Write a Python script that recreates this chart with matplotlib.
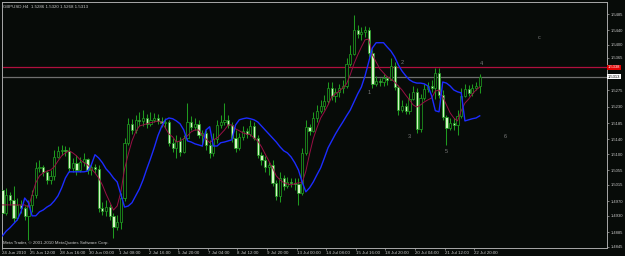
import matplotlib
matplotlib.use("Agg")
import matplotlib.pyplot as plt
from matplotlib.patches import Rectangle

# ---------------- data (GBPUSD H4) ----------------
first_open = 1.5001
closes = [1.4938, 1.4988, 1.4974, 1.4924, 1.4960, 1.4952, 1.4930, 1.4960, 1.4988, 1.5062,
          1.5065, 1.5051, 1.5029, 1.5040, 1.5092, 1.5109, 1.5111, 1.5109, 1.5062, 1.5076,
          1.5056, 1.5078, 1.5087, 1.5056, 1.5065, 1.5059, 1.4952, 1.4943, 1.4954, 1.4930,
          1.4899, 1.4913, 1.4979, 1.5131, 1.5183, 1.5166, 1.5194, 1.5191, 1.5199, 1.5183,
          1.5194, 1.5199, 1.5191, 1.5186, 1.5188, 1.5131, 1.5117, 1.5136, 1.5106, 1.5144,
          1.5188, 1.5175, 1.5183, 1.5153, 1.5158, 1.5125, 1.5103, 1.5142, 1.5180, 1.5188,
          1.5194, 1.5180, 1.5144, 1.5117, 1.5147, 1.5164, 1.5155, 1.5177, 1.5144, 1.5098,
          1.5084, 1.5065, 1.5070, 1.5021, 1.4985, 1.5034, 1.5012, 1.5023, 1.5021, 1.5018,
          1.4993, 1.5103, 1.5175, 1.5164, 1.5199, 1.5219, 1.5232, 1.5246, 1.5282, 1.5260,
          1.5271, 1.5282, 1.5287, 1.5348, 1.5375, 1.5441, 1.5430, 1.5435, 1.5441, 1.5378,
          1.5293, 1.5301, 1.5298, 1.5309, 1.5304, 1.5342, 1.5284, 1.5221, 1.5232, 1.5219,
          1.5251, 1.5271, 1.5169, 1.5254, 1.5279, 1.5287, 1.5282, 1.5323, 1.5262, 1.5202,
          1.5172, 1.5186, 1.5180, 1.5205, 1.5260, 1.5279, 1.5268, 1.5282, 1.5286, 1.5313]
highs = [1.5015, 1.5007, 1.4996, 1.5012, 1.4979, 1.4974, 1.4957, 1.4974, 1.5001, 1.5078,
         1.5084, 1.5070, 1.5056, 1.5056, 1.5111, 1.5122, 1.5125, 1.5122, 1.5120, 1.5089,
         1.5098, 1.5092, 1.5103, 1.5089, 1.5076, 1.5073, 1.5070, 1.4968, 1.4974, 1.4963,
         1.4938, 1.4932, 1.4993, 1.5144, 1.5199, 1.5197, 1.5208, 1.5216, 1.5221, 1.5210,
         1.5216, 1.5213, 1.5210, 1.5202, 1.5199, 1.5194, 1.5144, 1.5153, 1.5147, 1.5153,
         1.5240, 1.5205, 1.5199, 1.5194, 1.5166, 1.5166, 1.5139, 1.5158, 1.5194, 1.5208,
         1.5240, 1.5208, 1.5188, 1.5166, 1.5158, 1.5177, 1.5172, 1.5194, 1.5188, 1.5153,
         1.5106, 1.5095, 1.5078, 1.5084, 1.5029, 1.5051, 1.5043, 1.5037, 1.5034, 1.5034,
         1.5034, 1.5117, 1.5194, 1.5183, 1.5216, 1.5235, 1.5249, 1.5262, 1.5298, 1.5298,
         1.5282, 1.5293, 1.5304, 1.5364, 1.5400, 1.5482, 1.5455, 1.5449, 1.5452, 1.5449,
         1.5386, 1.5315, 1.5309, 1.5320, 1.5315, 1.5364, 1.5353, 1.5290, 1.5249, 1.5240,
         1.5268, 1.5287, 1.5282, 1.5265, 1.5293, 1.5298, 1.5304, 1.5337, 1.5337, 1.5276,
         1.5208, 1.5199, 1.5199, 1.5221, 1.5282, 1.5293, 1.5290, 1.5293, 1.5298, 1.5320]
lows = [1.4930, 1.4932, 1.4960, 1.4913, 1.4919, 1.4938, 1.4919, 1.4864, 1.4941, 1.4979,
        1.5051, 1.5040, 1.5018, 1.5018, 1.5029, 1.5089, 1.5098, 1.5095, 1.5051, 1.5051,
        1.5043, 1.5051, 1.5067, 1.5045, 1.5043, 1.5048, 1.4941, 1.4932, 1.4930, 1.4919,
        1.4869, 1.4891, 1.4894, 1.4971, 1.5125, 1.5155, 1.5158, 1.5177, 1.5177, 1.5172,
        1.5177, 1.5188, 1.5183, 1.5175, 1.5172, 1.5122, 1.5106, 1.5089, 1.5095, 1.5103,
        1.5139, 1.5166, 1.5166, 1.5144, 1.5122, 1.5111, 1.5089, 1.5095, 1.5131, 1.5172,
        1.5180, 1.5172, 1.5133, 1.5106, 1.5111, 1.5139, 1.5144, 1.5150, 1.5139, 1.5089,
        1.5070, 1.5051, 1.5043, 1.5012, 1.4974, 1.4968, 1.5001, 1.5007, 1.5010, 1.5001,
        1.4960, 1.4988, 1.5098, 1.5153, 1.5161, 1.5188, 1.5213, 1.5221, 1.5238, 1.5249,
        1.5243, 1.5257, 1.5268, 1.5282, 1.5342, 1.5372, 1.5419, 1.5414, 1.5422, 1.5367,
        1.5282, 1.5287, 1.5287, 1.5287, 1.5290, 1.5304, 1.5276, 1.5208, 1.5216, 1.5210,
        1.5210, 1.5249, 1.5158, 1.5161, 1.5249, 1.5271, 1.5271, 1.5251, 1.5254, 1.5194,
        1.5125, 1.5166, 1.5166, 1.5153, 1.5199, 1.5257, 1.5260, 1.5260, 1.5276, 1.5268]
opens = [first_open] + closes[:-1]

ma_blue = [1.4875, 1.4888, 1.4897, 1.4908, 1.4919, 1.4941, 1.4979, 1.4966, 1.4930, 1.4930,
           1.4941, 1.4946, 1.4954, 1.4960, 1.4971, 1.4985, 1.5007, 1.5034, 1.5051, 1.5051,
           1.5051, 1.5051, 1.5051, 1.5053, 1.5070, 1.5098, 1.5089, 1.5076, 1.5059, 1.5048,
           1.5034, 1.5023, 1.4988, 1.4954, 1.4957, 1.4966, 1.4985, 1.5004, 1.5029, 1.5059,
           1.5087, 1.5117, 1.5150, 1.5175, 1.5194, 1.5199, 1.5197, 1.5191, 1.5183, 1.5166,
           1.5136, 1.5133, 1.5128, 1.5125, 1.5122, 1.5166, 1.5175, 1.5122, 1.5122, 1.5131,
           1.5133, 1.5136, 1.5139, 1.5180, 1.5194, 1.5197, 1.5199, 1.5197, 1.5194, 1.5188,
           1.5177, 1.5166, 1.5155, 1.5144, 1.5133, 1.5120, 1.5109, 1.5103, 1.5092, 1.5076,
           1.5056, 1.5023, 1.4996, 1.5007, 1.5023, 1.5043, 1.5062, 1.5089, 1.5117, 1.5136,
           1.5155, 1.5172, 1.5188, 1.5205, 1.5221, 1.5243, 1.5265, 1.5284, 1.5315, 1.5353,
           1.5392, 1.5406, 1.5406, 1.5406, 1.5394, 1.5383, 1.5367, 1.5345, 1.5328, 1.5315,
           1.5304, 1.5298, 1.5295, 1.5295, 1.5293, 1.5287, 1.5260, 1.5219, 1.5216, 1.5298,
           1.5295, 1.5287, 1.5276, 1.5271, 1.5268, 1.5191, 1.5194, 1.5197, 1.5199, 1.5205]
ma_red = [1.4960, 1.4960, 1.4960, 1.4960, 1.4960, 1.4960, 1.4960, 1.4954, 1.4988, 1.5021,
          1.5040, 1.5048, 1.5053, 1.5056, 1.5065, 1.5081, 1.5095, 1.5103, 1.5109, 1.5103,
          1.5095, 1.5084, 1.5076, 1.5070, 1.5059, 1.5048, 1.5034, 1.5015, 1.4990, 1.4968,
          1.4946, 1.4957, 1.4996, 1.5059, 1.5100, 1.5136, 1.5161, 1.5177, 1.5180, 1.5183,
          1.5186, 1.5188, 1.5191, 1.5188, 1.5172, 1.5155, 1.5147, 1.5133, 1.5136, 1.5142,
          1.5150, 1.5161, 1.5166, 1.5166, 1.5153, 1.5142, 1.5131, 1.5139, 1.5144, 1.5155,
          1.5166, 1.5180, 1.5180, 1.5169, 1.5164, 1.5158, 1.5155, 1.5153, 1.5144, 1.5136,
          1.5120, 1.5100, 1.5081, 1.5062, 1.5040, 1.5029, 1.5021, 1.5018, 1.5015, 1.5018,
          1.5021, 1.5021, 1.5053, 1.5100, 1.5142, 1.5172, 1.5199, 1.5216, 1.5235, 1.5257,
          1.5265, 1.5273, 1.5282, 1.5293, 1.5318, 1.5348, 1.5372, 1.5394, 1.5414, 1.5416,
          1.5372, 1.5353, 1.5334, 1.5323, 1.5312, 1.5306, 1.5298, 1.5287, 1.5276, 1.5262,
          1.5249, 1.5235, 1.5229, 1.5235, 1.5243, 1.5249, 1.5254, 1.5273, 1.5276, 1.5257,
          1.5235, 1.5213, 1.5199, 1.5191, 1.5219, 1.5240, 1.5251, 1.5265, 1.5276, 1.5284]

hline_price = 1.5338
bid_price = 1.5313
ytick_values = [1.5485, 1.5440, 1.5400, 1.5365, 1.5275, 1.5230, 1.5185, 1.5140,
                1.5100, 1.5055, 1.5015, 1.4970, 1.4930, 1.4885, 1.4845]
xtick_labels = ["24 Jun 2010", "25 Jun 12:00", "28 Jun 16:00", "30 Jun 00:00", "1 Jul 08:00",
                "2 Jul 16:00", "5 Jul 20:00", "7 Jul 04:00", "8 Jul 12:00", "9 Jul 20:00",
                "13 Jul 00:00", "14 Jul 08:00", "15 Jul 16:00", "18 Jul 20:00", "20 Jul 04:00",
                "21 Jul 12:00", "22 Jul 20:00"]
wave_labels = ["1", "2", "3", "4", "5", "6", "c"]
wave_bars = [99, 108, 110, 129.5, 120, 135.8, 145]
wave_prices = [1.5268, 1.5353, 1.5147, 1.5350, 1.5106, 1.5147, 1.5420]
title_text = "GBPUSD,H4  1.5286 1.5320 1.5268 1.5313"
footer_text = "Meta Trader, \u00a9 2001-2010 MetaQuotes Software Corp."

# ---------------- style ----------------
BG = "#070b08"
FRAME = "#a8a8a8"
TXT = "#c8c8c8"
WICK = "#1f9a1f"
BEAR_FILL = "#d4f5c4"
FONT = ["Liberation Sans", "DejaVu Sans"]
FS = 3.2

plt.rcParams["font.family"] = FONT

fig = plt.figure(figsize=(6.25, 2.56), dpi=100, facecolor=BG)
ax = fig.add_axes([2 / 625, 8 / 256, 605 / 625, 246 / 256])
ax.set_facecolor(BG)

n = len(closes)
xs = list(range(n))

# wicks
ax.vlines(xs, lows, highs, colors=WICK, linewidth=0.75, zorder=2)
# bodies
bw = 0.6
for i in xs:
    o, c = opens[i], closes[i]
    lo = min(o, c)
    h = max(abs(c - o), 0.00006)
    fc = BG if c >= o else BEAR_FILL
    ax.add_patch(Rectangle((i - bw / 2, lo), bw, h, facecolor=fc, edgecolor=WICK,
                           linewidth=0.55, zorder=3))

# indicator lines
ax.plot(xs, ma_red, color="#9a0f45", linewidth=0.7, zorder=4)
ax.plot(xs, ma_blue, color="#1c2cff", linewidth=1.0, zorder=5)

# horizontal lines
ax.axhline(hline_price, color="#b0103e", linewidth=0.9, zorder=1)
ax.axhline(bid_price, color="#6f6f6f", linewidth=0.9, zorder=1)

# limits (bar spacing ~3.7 px)
ax.set_xlim(-0.135, 163.4)
ax.set_ylim(1.48415, 1.5518)

# frame
for side in ["left", "right", "top", "bottom"]:
    ax.spines[side].set_color(FRAME)
    ax.spines[side].set_linewidth(0.7)

# y axis on the right
ax.yaxis.tick_right()
ax.set_yticks(ytick_values)
ax.set_yticklabels([f"{v:.4f}" for v in ytick_values])
ax.tick_params(axis="y", colors=FRAME, labelcolor=TXT, labelsize=3.0, length=1.5,
               width=0.5, pad=1.0, direction="out")

# x axis
xt = [max(8 * k - 0.5, 0) for k in range(len(xtick_labels))]
ax.set_xticks(xt)
ax.set_xticklabels(xtick_labels)
ax.tick_params(axis="x", colors=FRAME, labelcolor=TXT, labelsize=FS, length=1.5,
               width=0.5, pad=0.6, direction="out")
for lab in ax.get_xticklabels():
    lab.set_horizontalalignment("left")

# price boxes on the right scale
ax.text(1.0015, hline_price, f"{hline_price:.4f}", transform=ax.get_yaxis_transform(),
        fontsize=3.0, color="white", va="center", ha="left",
        bbox=dict(boxstyle="square,pad=0.2", facecolor="#e00000", edgecolor="none"),
        clip_on=False, zorder=10)
ax.text(1.0015, bid_price, f"{bid_price:.4f}", transform=ax.get_yaxis_transform(),
        fontsize=3.0, color="black", va="center", ha="left",
        bbox=dict(boxstyle="square,pad=0.2", facecolor="white", edgecolor="none"),
        clip_on=False, zorder=10)

# wave labels
for lbl, bx, py in zip(wave_labels, wave_bars, wave_prices):
    ax.text(bx, py, lbl, color="#7c7c7c", fontsize=4.0, ha="center", va="center", zorder=6)

# title and footer
ax.text(0.002, 0.988, title_text, transform=ax.transAxes, color=TXT, fontsize=FS,
        ha="left", va="top", zorder=10)
ax.text(0.002, 0.012, footer_text, transform=ax.transAxes, color=TXT, fontsize=FS,
        ha="left", va="bottom", zorder=10)

fig.savefig("out.png", dpi=100, facecolor=BG)
